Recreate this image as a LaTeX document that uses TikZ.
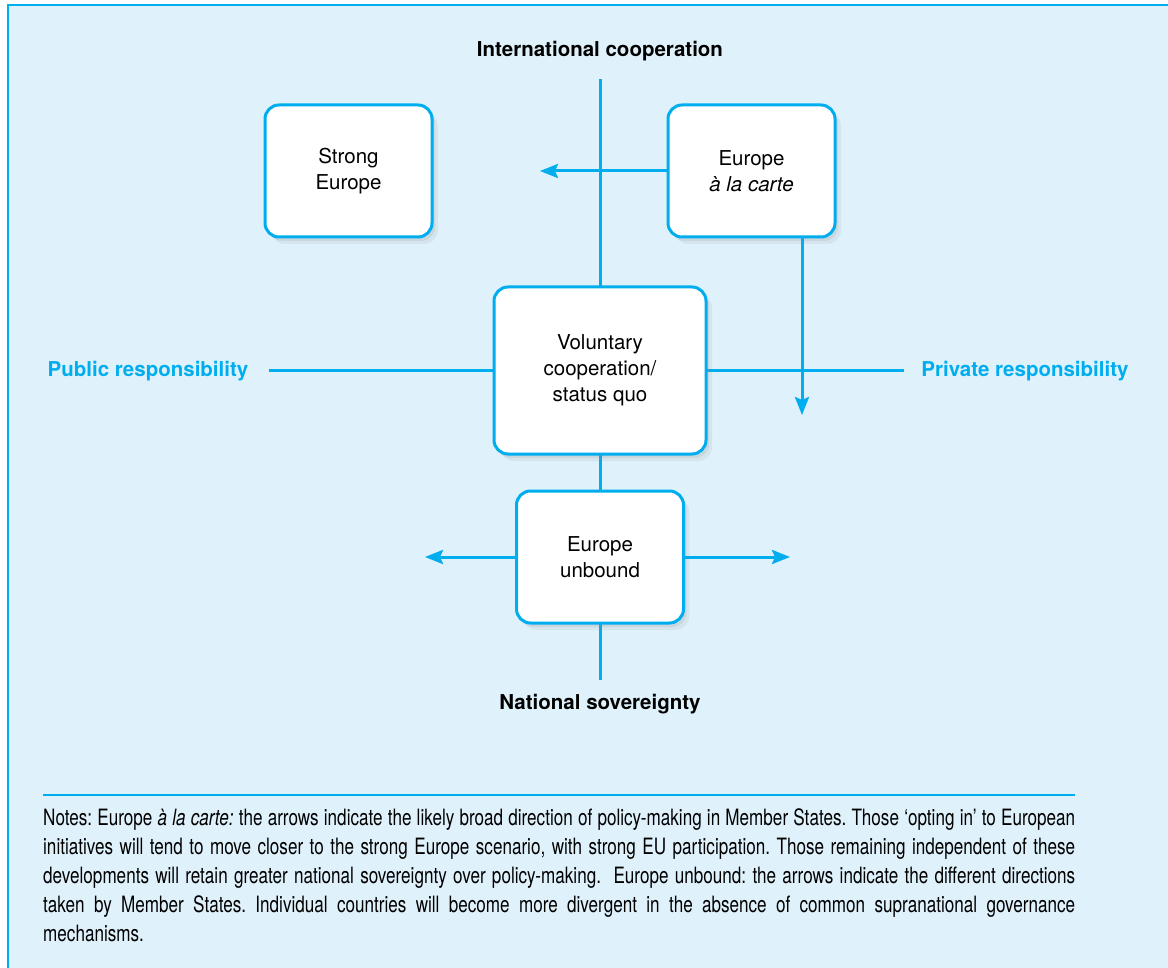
\documentclass[tikz,border=0pt]{standalone}
\usepackage{fontspec}
\setmainfont{TeX Gyre Heros}
\newfontfamily\notesfont[FakeStretch=0.76]{TeX Gyre Heros}
\usetikzlibrary{arrows.meta,positioning,shadows}
\definecolor{eucyan}{RGB}{0,174,239}
\definecolor{eubg}{RGB}{223,241,251}
\newcommand\nohyphnotes{\hyphenpenalty=10000 \exhyphenpenalty=10000 \relax}
\tikzset{
  sbox/.style={rectangle, rounded corners=14pt, draw=eucyan, line width=3pt,
               outer sep=0pt, fill=white, align=center,
               font=\fontsize{20.5}{26}\selectfont,
               minimum width=167pt, minimum height=132pt,
               drop shadow={opacity=.1, shadow xshift=6pt, shadow yshift=-7pt},
               drop shadow={opacity=.14, shadow xshift=3pt, shadow yshift=-4pt}},
  bigbox/.style={sbox, minimum width=212pt, minimum height=167pt},
  axis/.style={draw=eucyan, line width=3pt},
  arrow/.style={axis, -{Stealth[length=18pt,width=14pt,inset=3pt]}},
  axlbl/.style={font=\fontsize{20.5}{24}\selectfont\bfseries, inner sep=2pt},
  sidelbl/.style={axlbl, text=eucyan},
  notes/.style={text width=1032pt, align=justify, inner sep=0pt,
                font=\notesfont\fontsize{22.5}{29}\selectfont\frenchspacing}
}

\begin{document}
\begin{tikzpicture}[x=1pt, y=-1pt]
  \useasboundingbox (0,0) rectangle (1168,968);
  \fill[eubg] (8,5) rectangle (1168,968);
  \draw[eucyan, line width=2.5pt] (8,968) -- (8,5) -- (1168,5);

  % axes
  \node[axlbl] (intl) at (600,51) {International cooperation};
  \node[axlbl] (natl) at (600,704) {National sovereignty};
  \node[sidelbl] (pub) at (148,371) {Public responsibility};
  \node[sidelbl] (priv) at (1025,371) {Private responsibility};
  \draw[axis, shorten <=16pt, shorten >=12pt] (intl) -- (natl);
  \draw[axis, shorten <=18pt, shorten >=15pt] (pub) -- (priv);

  % scenarios
  \node[bigbox] (volun) at (600,370.5) {Voluntary\\cooperation/\\status quo};
  \node[sbox, above left=50pt and 62pt of volun] (strong) {Strong\\Europe};
  \node[sbox, right=236pt of strong] (carte) {Europe\\\textit{à la carte}};
  \node[sbox, below=37pt of volun] (unbound) {Europe\\unbound};

  % directions
  \coordinate (cartel) at (540,171);
  \coordinate (carted) at (802,415);
  \coordinate (unbl) at (425,557);
  \coordinate (unbr) at (790,557);
  \draw[arrow] (carte.west) -- (cartel);
  \draw[arrow] (carted |- carte.south) -- (carted);
  \draw[arrow] (unbound.west) -- (unbl);
  \draw[arrow] (unbound.east) -- (unbr);

  % notes
  \draw[eucyan, line width=1.5pt] (43,795) -- (1075,795);
  \node[notes, anchor=north west] (notes) at (43,808) {\nohyphnotes Notes: Europe \textit{à la carte:} the arrows indicate the likely broad direction of policy-making in Member States. Those ‘opting in’ to European\linebreak
  initiatives will tend to move closer to the strong Europe scenario, with strong EU participation. Those remaining independent of these\linebreak
  developments will retain greater national sovereignty over policy-making.\ \ Europe unbound: the arrows indicate the different directions\linebreak
  taken by Member States. Individual countries will become more divergent in the absence of common supranational governance\linebreak
  mechanisms.};
\end{tikzpicture}
\end{document}
